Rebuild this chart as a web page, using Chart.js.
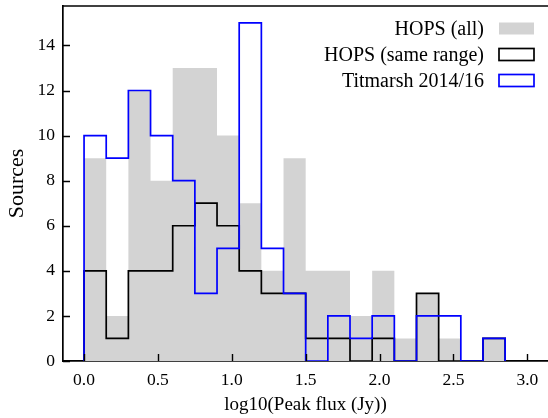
<!DOCTYPE html>
<html lang="en">
<head>
<meta charset="UTF-8">
<title>Peak flux histogram</title>
<script src="https://cdn.jsdelivr.net/npm/chart.js"></script>
<style>
  body { margin: 0; background: #fff; }
  #chart-container { width: 548px; height: 418px; }
</style>
</head>
<body>
<div id="chart-container"><canvas id="histChart"></canvas></div>
<script>
// histogram bins in log10(peak flux), width 0.15
const binEdges = [0.0, 0.15, 0.3, 0.45, 0.6, 0.75, 0.9, 1.05, 1.2, 1.35, 1.5, 1.65, 1.8, 1.95, 2.1, 2.25, 2.4, 2.55, 2.7, 2.85];
const hopsAll  = [9, 2, 12, 8, 13, 13, 10, 7, 4, 9, 4, 4, 2, 4, 1, 3, 1, 0, 1];
const hopsSame = [4, 1, 4, 4, 6, 7, 6, 4, 3, 3, 1, 1, 0, 1, 0, 3, 0, 0, 1];
const titmarsh = [10, 9, 12, 10, 8, 3, 5, 15, 5, 3, 0, 2, 1, 2, 0, 2, 2, 0, 1];
const xTicks = [0.0, 0.5, 1.0, 1.5, 2.0, 2.5, 3.0];
const yTicks = [0, 2, 4, 6, 8, 10, 12, 14];
const seriesLabels = ['HOPS (all)', 'HOPS (same range)', 'Titmarsh 2014/16'];

const serif = "'Liberation Serif', 'DejaVu Serif', serif";
Chart.defaults.font.family = serif;
Chart.defaults.color = '#000';

// outline of a step histogram: up from 0 at the first edge, back to 0 at the last
function stepPoints(counts) {
    const pts = [{x: binEdges[0], y: 0}];
    counts.forEach((c, i) => pts.push({x: binEdges[i], y: c}));
    pts.push({x: binEdges[binEdges.length - 1], y: 0});
    return pts;
}

// top spine, inward tick marks and the legend (handles on the right)
const framePlugin = {
    id: 'frame',
    afterDraw(chart) {
        const {ctx, chartArea: a, scales: {x, y}} = chart;
        ctx.save();
        ctx.strokeStyle = '#000';
        ctx.lineWidth = 1.7;
        ctx.beginPath();
        ctx.moveTo(a.left, a.top);
        ctx.lineTo(a.right, a.top);
        ctx.stroke();

        ctx.lineWidth = 1.4;
        ctx.beginPath();
        xTicks.forEach(v => {
            const px = Math.round(x.getPixelForValue(v)) + 0.5;
            ctx.moveTo(px, a.bottom);
            ctx.lineTo(px, a.bottom - 7);
        });
        yTicks.forEach(v => {
            const py = Math.round(y.getPixelForValue(v)) + 0.5;
            ctx.moveTo(a.left, py);
            ctx.lineTo(a.left + 7, py);
        });
        ctx.stroke();

        // legend
        const textRight = 484, boxLeft = 499, boxW = 35, boxH = 12;
        const rows = [28.5, 54.5, 80.5];
        const styles = [
            {fill: '#d3d3d3', stroke: null},
            {fill: '#fff', stroke: '#000'},
            {fill: '#fff', stroke: '#0000ff'}
        ];
        ctx.font = '20px ' + serif;
        ctx.textAlign = 'right';
        ctx.textBaseline = 'middle';
        seriesLabels.forEach((lab, i) => {
            const cy = rows[i];
            ctx.fillStyle = '#000';
            ctx.fillText(lab, textRight, cy + 1);
            const s = styles[i];
            ctx.fillStyle = s.fill;
            ctx.fillRect(boxLeft, cy - boxH / 2, boxW, boxH);
            if (s.stroke) {
                ctx.strokeStyle = s.stroke;
                ctx.lineWidth = 1.7;
                ctx.strokeRect(boxLeft, cy - boxH / 2, boxW, boxH);
            }
        });
        ctx.restore();
    }
};

const ctx = document.getElementById('histChart').getContext('2d');
new Chart(ctx, {
    type: 'line',
    data: {
        datasets: [
            {
                label: seriesLabels[0],
                data: stepPoints(hopsAll),
                stepped: true,
                fill: 'origin',
                backgroundColor: '#d3d3d3',
                borderColor: 'rgba(0,0,0,0)',
                borderWidth: 0,
                pointRadius: 0,
                order: 3
            },
            {
                label: seriesLabels[1],
                data: stepPoints(hopsSame),
                stepped: true,
                fill: false,
                borderColor: '#000',
                borderWidth: 1.7,
                pointRadius: 0,
                order: 2
            },
            {
                label: seriesLabels[2],
                data: stepPoints(titmarsh),
                stepped: true,
                fill: false,
                borderColor: '#0000ff',
                borderWidth: 1.7,
                pointRadius: 0,
                order: 1
            }
        ]
    },
    options: {
        responsive: true,
        maintainAspectRatio: false,
        animation: false,
        events: [],
        layout: { padding: { top: 6, right: 0, left: 0, bottom: 0 } },
        plugins: {
            legend: { display: false },
            tooltip: { enabled: false }
        },
        scales: {
            x: {
                type: 'linear',
                min: -0.1425,
                max: 3.14,
                afterBuildTicks: s => { s.ticks = xTicks.map(v => ({value: v})); },
                afterFit: s => { s.height = 57; s.paddingLeft = 0; s.paddingRight = 0; },
                grid: { display: false, drawTicks: false },
                border: { display: true, color: '#000', width: 1.7 },
                ticks: {
                    padding: 9,
                    font: { size: 17.5 },
                    callback: v => v.toFixed(1)
                },
                title: {
                    display: true,
                    text: 'log10(Peak flux (Jy))',
                    font: { size: 19 },
                    padding: { top: 0, bottom: 2 }
                }
            },
            y: {
                type: 'linear',
                min: 0,
                max: 15.75,
                afterBuildTicks: s => { s.ticks = yTicks.map(v => ({value: v})); },
                afterFit: s => { s.width = 63; s.paddingTop = 0; s.paddingBottom = 0; },
                grid: { display: false, drawTicks: false },
                border: { display: true, color: '#000', width: 1.7 },
                ticks: {
                    padding: 8,
                    font: { size: 17.5 }
                },
                title: {
                    display: true,
                    text: 'Sources',
                    font: { size: 22 },
                    padding: { top: 4, bottom: 0 }
                }
            }
        }
    },
    plugins: [framePlugin]
});
</script>
</body>
</html>
